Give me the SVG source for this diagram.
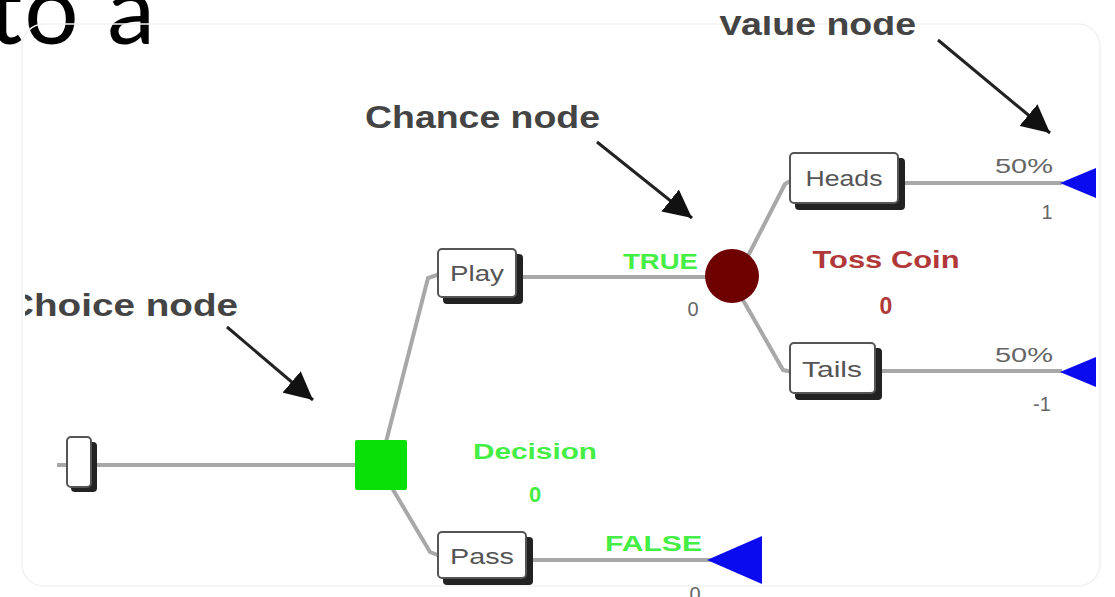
<svg xmlns="http://www.w3.org/2000/svg" width="1115" height="597" viewBox="0 0 1115 597">
  <style>
    .ann { font-family: "Liberation Sans", Arial, sans-serif; font-weight: bold; font-size: 32px; fill: #444; }
    .edge { stroke: #a8a8a8; stroke-width: 4; fill: none; }
    .box { fill: #fff; stroke: #555; stroke-width: 2; }
    .shadow { fill: #222; }
    .boxtxt { font-family: "Liberation Sans", Arial, sans-serif; font-size: 22px; fill: #555; }
    .green { font-family: "Liberation Sans", Arial, sans-serif; font-weight: bold; font-size: 22px; fill: #44ee44; }
    .red { font-family: "Liberation Sans", Arial, sans-serif; font-weight: bold; font-size: 23px; fill: #b03838; }
    .val { font-family: "Liberation Sans", Arial, sans-serif; font-size: 20px; fill: #666; }
    .pointer { stroke: #222; stroke-width: 3; fill: none; marker-end: url(#head); }
    .term { fill: #0b0bf0; }
  </style>
  <defs>
    <marker id="head" markerUnits="userSpaceOnUse" markerWidth="30" markerHeight="28" refX="28" refY="14" orient="auto">
      <path d="M0,0 L28,14 L0,28 z" fill="#111"/>
    </marker>
    <clipPath id="imgclip">
      <rect x="25" y="16" width="1090" height="581"/>
    </clipPath>
  </defs>
  <rect width="1115" height="597" fill="#fff"/>

  <g id="title">
    <text x="-12" y="44" font-family="Lato, 'Open Sans', sans-serif" font-size="96" fill="#000" letter-spacing="2">to a</text>
  </g>

  <g id="frame">
    <rect x="22" y="24" width="1078" height="562" rx="22" fill="none" stroke="#f2f2f2" stroke-width="1.5"/>
  </g>

  <g id="annotations" clip-path="url(#imgclip)">
    <text class="ann" x="718" y="35" textLength="198" lengthAdjust="spacingAndGlyphs">Value node</text>
    <text class="ann" x="365" y="128" textLength="235" lengthAdjust="spacingAndGlyphs">Chance node</text>
    <text class="ann" x="6" y="316" textLength="232" lengthAdjust="spacingAndGlyphs">Choice node</text>
  </g>

  <g id="connectors">
    <line class="pointer" x1="227" y1="327" x2="313" y2="400"/>
    <line class="pointer" x1="597" y1="142" x2="692" y2="218"/>
    <line class="pointer" x1="938" y1="40" x2="1050" y2="133"/>
    <line class="edge" x1="57" y1="465" x2="67" y2="465"/>
    <line class="edge" x1="95" y1="465" x2="357" y2="465"/>
    <polyline class="edge" points="386,442 428,278 440,274"/>
    <line class="edge" x1="518" y1="277" x2="712" y2="277"/>
    <polyline class="edge" points="392,488 430,552 440,556"/>
    <line class="edge" x1="528" y1="560" x2="712" y2="560"/>
    <polyline class="edge" points="748,256 785,184 792,180"/>
    <line class="edge" x1="900" y1="183" x2="1062" y2="183"/>
    <polyline class="edge" points="743,300 783,370 792,372"/>
    <line class="edge" x1="878" y1="371" x2="1062" y2="371"/>
  </g>

  <g id="root">
    <rect class="shadow" x="71" y="442" width="26" height="50" rx="4"/>
    <rect class="box" x="67" y="437" width="24" height="50" rx="4"/>
  </g>

  <g id="decision">
    <rect x="355" y="440" width="52" height="50" rx="2" fill="#08e008"/>
    <text class="green" x="535" y="459" text-anchor="middle" textLength="124" lengthAdjust="spacingAndGlyphs">Decision</text>
    <text class="green" x="535" y="502" text-anchor="middle">0</text>
  </g>

  <g id="play">
    <rect class="shadow" x="443" y="254" width="80" height="50" rx="4"/>
    <rect class="box" x="438" y="249" width="78" height="48" rx="4"/>
    <text class="boxtxt" x="477" y="281" text-anchor="middle" textLength="54" lengthAdjust="spacingAndGlyphs">Play</text>
    <text class="green" x="698" y="269" text-anchor="end" textLength="75" lengthAdjust="spacingAndGlyphs">TRUE</text>
    <text class="val" x="693" y="316" text-anchor="middle">0</text>
  </g>

  <g id="pass">
    <rect class="shadow" x="443" y="537" width="90" height="48" rx="4"/>
    <rect class="box" x="438" y="532" width="88" height="46" rx="4"/>
    <text class="boxtxt" x="482" y="564" text-anchor="middle" textLength="64" lengthAdjust="spacingAndGlyphs">Pass</text>
    <text class="green" x="702" y="551" text-anchor="end" textLength="97" lengthAdjust="spacingAndGlyphs">FALSE</text>
    <path class="term" d="M707,560 L762,536 L762,584 z"/>
    <text class="val" x="695" y="601" text-anchor="middle">0</text>
  </g>

  <g id="chance">
    <circle cx="732" cy="276" r="27" fill="#6e0000"/>
    <text class="red" x="886" y="268" text-anchor="middle" textLength="147" lengthAdjust="spacingAndGlyphs">Toss Coin</text>
    <text class="red" x="886" y="314" text-anchor="middle">0</text>
  </g>

  <g id="heads">
    <rect class="shadow" x="795" y="158" width="110" height="52" rx="4"/>
    <rect class="box" x="790" y="153" width="108" height="50" rx="4"/>
    <text class="boxtxt" x="844" y="186" text-anchor="middle" textLength="77" lengthAdjust="spacingAndGlyphs">Heads</text>
    <text class="val" x="1053" y="173" text-anchor="end" textLength="58" lengthAdjust="spacingAndGlyphs">50%</text>
    <path class="term" d="M1060,183 L1096,168 L1096,198 z"/>
    <text class="val" x="1047" y="219" text-anchor="middle">1</text>
  </g>

  <g id="tails">
    <rect class="shadow" x="795" y="348" width="87" height="52" rx="4"/>
    <rect class="box" x="790" y="343" width="85" height="50" rx="4"/>
    <text class="boxtxt" x="832" y="377" text-anchor="middle" textLength="60" lengthAdjust="spacingAndGlyphs">Tails</text>
    <text class="val" x="1053" y="362" text-anchor="end" textLength="58" lengthAdjust="spacingAndGlyphs">50%</text>
    <path class="term" d="M1060,372 L1096,357 L1096,387 z"/>
    <text class="val" x="1042" y="411" text-anchor="middle">-1</text>
  </g>
</svg>
